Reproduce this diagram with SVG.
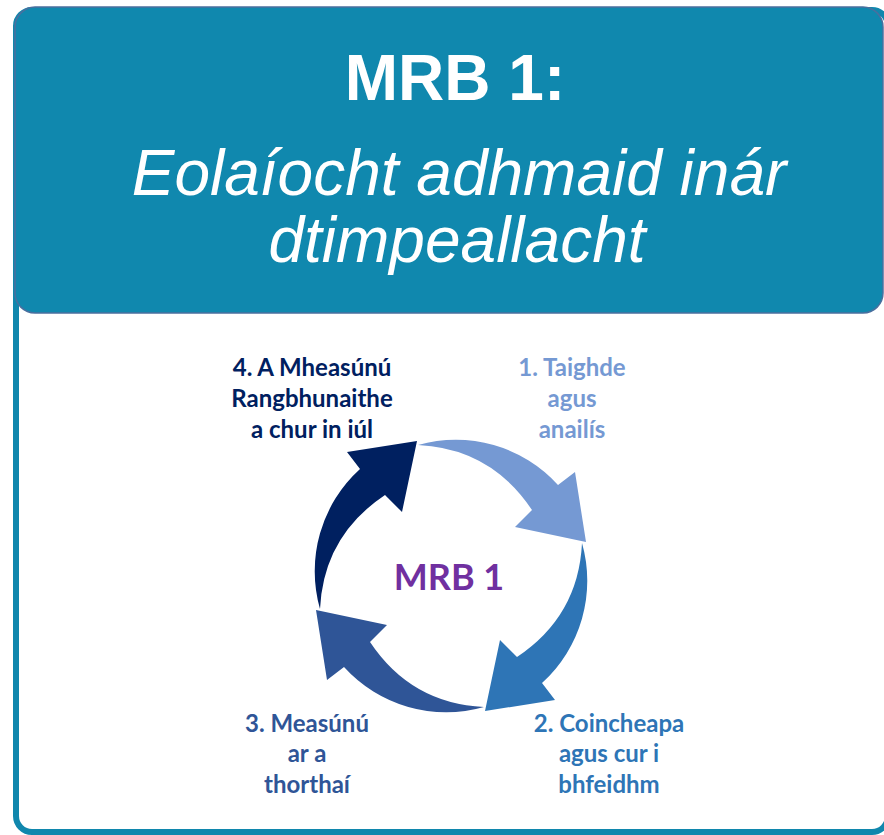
<svg xmlns="http://www.w3.org/2000/svg" width="884" height="835" viewBox="0 0 884 835">
<style>
.hdr{font-family:"Liberation Sans",Arial,sans-serif;fill:#fff;text-anchor:middle;font-size:64px}
.lbl{font-family:Lato,"Open Sans",sans-serif;font-weight:bold;font-size:24px;text-anchor:middle}
</style>
<defs>
<path id="arw" d="M-33,-131 A138,138 0 0 1 107,-91 L124,-104 L135,-34 L64,-49 L81,-66 Q40,-127.5 -33,-131 Z"/>
</defs>
<rect width="884" height="835" fill="#fff"/>
<g id="frame">
<rect x="16" y="10" width="872" height="822" rx="16" fill="#fff" stroke="#1087AD" stroke-width="6"/>
</g>
<g id="header">
<rect x="15" y="7" width="868" height="306" rx="20" fill="#1088AE" stroke="#4A6F9E" stroke-width="1.5"/>
<text class="hdr" x="455" y="100" font-weight="bold">MRB 1:</text>
<text class="hdr" x="459" y="195" font-style="italic">Eolaíocht adhmaid inár</text>
<text class="hdr" x="457" y="262" font-style="italic">dtimpeallacht</text>
</g>
<g id="connectors" transform="translate(451,576)">
<use id="arrow1" href="#arw" fill="#7599D3"/>
<use id="arrow2" href="#arw" fill="#2E75B6" transform="rotate(90)"/>
<use id="arrow3" href="#arw" fill="#2F5597" transform="rotate(180)"/>
<use id="arrow4" href="#arw" fill="#002060" transform="rotate(270)"/>
</g>
<g id="center">
<text x="449" y="590" font-family="Lato,'Open Sans',sans-serif" font-weight="bold" font-size="36" fill="#7030A0" text-anchor="middle">MRB 1</text>
</g>
<g id="step1">
<text class="lbl" fill="#7599D3"><tspan x="572" y="376">1. Taighde</tspan><tspan x="572" y="407">agus</tspan><tspan x="572" y="438">anailís</tspan></text>
</g>
<g id="step2">
<text class="lbl" fill="#2E75B6"><tspan x="609" y="732">2. Coincheapa</tspan><tspan x="609" y="762">agus cur i</tspan><tspan x="609" y="793">bhfeidhm</tspan></text>
</g>
<g id="step3">
<text class="lbl" fill="#2F5597"><tspan x="307" y="732">3. Measúnú</tspan><tspan x="307" y="762">ar a</tspan><tspan x="307" y="793">thorthaí</tspan></text>
</g>
<g id="step4">
<text class="lbl" fill="#002060"><tspan x="312" y="376">4. A Mheasúnú</tspan><tspan x="312" y="407">Rangbhunaithe</tspan><tspan x="312" y="438">a chur in iúl</tspan></text>
</g>
</svg>
